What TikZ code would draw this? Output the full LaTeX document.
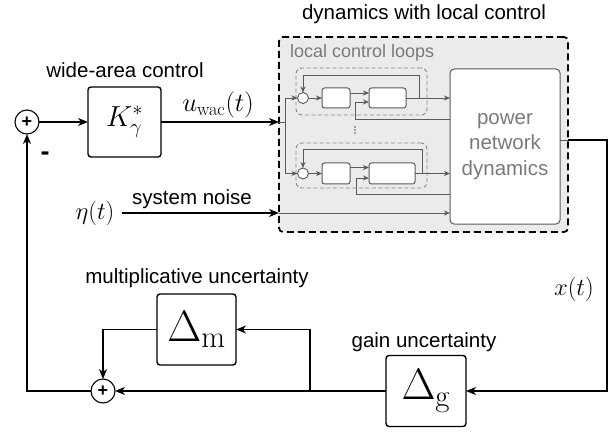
\RequirePackage{fix-cm}
\documentclass[tikz,border=0pt]{standalone}
\usepackage[no-math]{fontspec}
\setmainfont{Liberation Sans}
\usetikzlibrary{arrows.meta}
\definecolor{lgray}{HTML}{EBEBEB}
\definecolor{lline}{HTML}{5A5A5A}
\definecolor{ltext}{HTML}{7A7A7A}
\definecolor{ldash}{HTML}{858585}
\begin{document}
\begin{tikzpicture}[x=1pt,y=-1pt,
  txt/.style={font=\fontsize{20.5}{24}\selectfont, inner sep=0},
  mth/.style={font=\fontsize{24.5}{28}\selectfont, inner sep=0},
  bigm/.style={font=\fontsize{44}{48}\selectfont},
  bblock/.style={draw=black, line width=1.4pt, fill=white, rounded corners=3pt, inner sep=0, outer sep=0},
  gblock/.style={draw=lline, line width=1pt, fill=white, rounded corners=2.5pt, inner sep=0, outer sep=0},
  ldashbox/.style={draw=ldash, line width=0.9pt, dash pattern=on 4pt off 2.5pt, rounded corners=6pt, inner sep=0, outer sep=0},
  sumnode/.style={draw=black, line width=1.1pt, circle, minimum size=24pt, inner sep=0, outer sep=0, font=\fontsize{18}{18}\selectfont\bfseries, fill=white},
  gcirc/.style={draw=lline, line width=0.9pt, circle, minimum size=11pt, inner sep=0, outer sep=0, fill=white},
  barrow/.style={draw=black, line width=1.4pt, -{Stealth[length=10pt,width=8pt,inset=3pt]}},
  bline/.style={draw=black, line width=1.4pt},
  garrow/.style={draw=lline, line width=0.9pt, -{Stealth[length=6pt,width=5pt,inset=1.8pt]}},
  gline/.style={draw=lline, line width=0.9pt},
]
\useasboundingbox (0,0) rectangle (616,433);

% container
\node[draw=black, line width=1.8pt, dash pattern=on 7pt off 4pt, fill=lgray, rounded corners=4pt,
      minimum width=289pt, minimum height=195pt, inner sep=0, outer sep=0] (outer) at (423.5,134.5) {};
\node[txt] (title) at (424,14) {dynamics with local control};
\node[txt, font=\fontsize{18}{20}\selectfont, text=ltext, anchor=west] (lcl) at (290,53) {local control loops};

% local loops
\node[ldashbox, minimum width=131pt, minimum height=47pt] (lp1) at (361.5,91.5) {};
\node[ldashbox, minimum width=131pt, minimum height=45pt] (lp2) at (361.5,165.5) {};
\node[gcirc] (c1) at (303,98) {};
\node[gblock, minimum width=28pt, minimum height=20pt] (a1) at (336,98) {};
\node[gblock, minimum width=37pt, minimum height=20pt] (b1) at (387.5,98) {};
\node[gcirc] (c2) at (303,173.5) {};
\node[gblock, minimum width=28pt, minimum height=21pt] (a2) at (336,173.5) {};
\node[gblock, minimum width=46pt, minimum height=21pt] (b2) at (392,173.5) {};
\foreach \yy in {127,130,133} \fill[lline] (355,\yy) circle (0.9pt);

% power network
\node[gblock, rounded corners=4pt, minimum width=110pt, minimum height=155pt, align=center,
      text=ltext, font=\fontsize{20.5}{25.5}\selectfont] (pnd) at (505,146.5) {power\\network\\dynamics};

% main blocks
\node[sumnode] (sum1) at (27,122) {+};
\node[bblock, minimum width=73pt, minimum height=70pt, font=\fontsize{29}{32}\selectfont] (K) at (124.5,122) {$K^*_\gamma$};
\node[txt] (wac) at (125,70) {wide-area control};
\node[inner sep=0, font=\fontsize{26.5}{30}\selectfont] (uwac) at (218,105) {$u_{\mathrm{wac}}(t)$};
\node[inner sep=0, font=\fontsize{27}{27}\selectfont\bfseries] (minus) at (45,156) {-};
\node[mth] (eta) at (95,213) {$\eta(t)$};
\node[txt] (noise) at (192,199) {system noise};

\node[bblock, minimum width=79pt, minimum height=71pt, bigm] (dm) at (196.5,329.5) {$\Delta_{\mathrm{m}}$};
\node[txt] (mult) at (197,278) {multiplicative uncertainty};
\node[bblock, minimum width=80pt, minimum height=71pt, bigm] (dg) at (426,391) {$\Delta_{\mathrm{g}}$};
\node[txt] (gain) at (424,342) {gain uncertainty};
\node[sumnode] (sum2) at (103,391) {+};
\node[mth] (xt) at (574,289) {$x(t)$};

% coordinates
\coordinate (in1) at (outer.west |- K.east);
\coordinate (d0) at (285,122);
\coordinate (d1) at (285,98);
\coordinate (d2) at (285,173.5);
\coordinate (f1) at (450,119);
\coordinate (f2) at (450,194);
\coordinate (n1) at (279,213);
\coordinate (o1) at ([yshift=6.5pt]pnd.east);
\coordinate (o2) at (o1 -| outer.east);
\coordinate (br) at (310,391);

% main connectors
\draw[barrow] (sum1.east) -- (K.west);
\draw[barrow] (K.east) -- (in1);
\draw[barrow] ([xshift=7pt]eta.east) -- (n1);

% local loop connectors
\draw[gline] (in1) -- (d0);
\draw[gline] (d1) -- (d2);
\draw[garrow] (d1) -- (c1.west);
\draw[garrow] (d2) -- (c2.west);

\draw[garrow] (c1.east) -- (a1.west);
\draw[garrow] ([yshift=5pt]a1.east) -- ([yshift=5pt]b1.west);
\draw[garrow] (b1.east) -- (b1.east -| pnd.west);
\draw[garrow] (419,98) -- (419,75) -| (c1.north);
\draw[garrow] (f1) -- (355,119) -- (355,102) -- ([yshift=-4pt]b1.west);

\draw[garrow] (c2.east) -- (a2.west);
\draw[garrow] ([yshift=6pt]a2.east) -- ([yshift=6pt]b2.west);
\draw[garrow] (b2.east) -- (b2.east -| pnd.west);
\draw[garrow] (422,173.5) -- (422,149) -| (c2.north);
\draw[garrow] (f2) -- (356,194) -- (356,178) -- ([yshift=-4.5pt]b2.west);

\draw[garrow] (n1) -- (n1 -| pnd.west);

% output and feedback
\draw[gline] (o1) -- (o2);
\draw[barrow] (o2) -- (607,140) |- (dg.east);
\draw[barrow] (dg.west) -- (sum2.east);
\draw[barrow] (br) |- (dm.east);
\draw[barrow] (dm.west) -| (sum2.north);
\draw[barrow] (sum2.west) -| (sum1.south);
\end{tikzpicture}
\end{document}
